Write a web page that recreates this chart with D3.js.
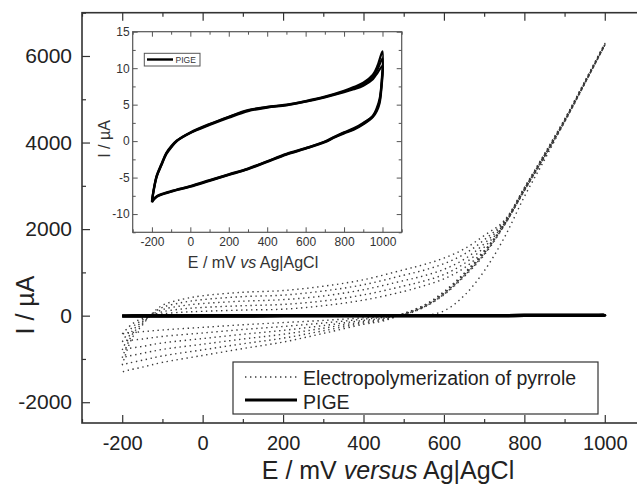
<!DOCTYPE html>
<html>
<head>
<meta charset="utf-8">
<script src="https://cdn.jsdelivr.net/npm/d3@7"></script>
<style>
  html, body { margin: 0; padding: 0; background: #fff; }
  svg { display: block; font-family: "Liberation Sans", Arial, Helvetica, sans-serif; }
</style>
</head>
<body>
<svg id="chart" width="637" height="485"></svg>
<script>
// ---------------- DATA ----------------
// Main chart: electropolymerization of pyrrole (6 cycles), I in µA vs E in mV
const potentialFwd = [-200, -175, -150, -125, -100, -50, 0, 100, 200, 300, 400, 500, 550, 600, 650, 700, 750, 800, 850, 900, 950, 1000];
const potentialRev = [1000, 950, 900, 850, 800, 750, 700, 650, 600, 550, 500, 450, 400, 300, 200, 100, 0, -100, -150, -185, -200];

const cycle1Fwd = [0, 0, 0, 0, 0, 0, 0, 0, 0, 0, 0, 0, 5, 110, 460, 1030, 1800, 2750, 3600, 4480, 5370, 6250];
const cycle2Fwd = [-420, -190, -60, -5, 40, 80, 100, 130, 150, 230, 360, 560, 690, 850, 1100, 1500, 2100, 2920, 3700, 4500, 5370, 6250];
const cycle3Fwd = [-600, -270, -100, 10, 90, 155, 190, 230, 260, 340, 480, 685, 800, 950, 1200, 1580, 2130, 2930, 3710, 4510, 5380, 6260];
const cycle4Fwd = [-790, -355, -140, 25, 140, 230, 280, 335, 370, 455, 600, 810, 920, 1070, 1300, 1660, 2160, 2940, 3720, 4520, 5390, 6270];
const cycle5Fwd = [-970, -435, -180, 40, 190, 305, 370, 440, 475, 570, 715, 935, 1050, 1200, 1420, 1750, 2180, 2950, 3730, 4530, 5400, 6280];
const cycle6Fwd = [-1140, -510, -220, 55, 240, 380, 460, 540, 580, 680, 830, 1060, 1180, 1330, 1540, 1850, 2200, 2960, 3740, 4540, 5410, 6290];

const cycle1Rev = [6250, 5350, 4470, 3660, 2880, 2080, 1400, 900, 480, 190, 20, -20, -50, -110, -160, -210, -270, -330, -370, -400, -420];
const cycle2Rev = [6250, 5360, 4480, 3670, 2890, 2090, 1420, 920, 495, 200, 30, -40, -80, -170, -250, -320, -400, -480, -540, -575, -600];
const cycle3Rev = [6260, 5370, 4490, 3680, 2900, 2100, 1440, 935, 510, 210, 35, -60, -110, -230, -340, -430, -530, -630, -710, -760, -790];
const cycle4Rev = [6270, 5380, 4500, 3690, 2910, 2110, 1455, 950, 525, 220, 40, -80, -140, -290, -430, -540, -660, -780, -870, -935, -970];
const cycle5Rev = [6280, 5390, 4510, 3700, 2920, 2120, 1470, 965, 540, 230, 45, -100, -170, -350, -520, -650, -790, -930, -1030, -1100, -1140];
const cycle6Rev = [6290, 5400, 4520, 3710, 2930, 2130, 1485, 980, 555, 240, 50, -120, -200, -410, -610, -760, -920, -1080, -1190, -1260, -1300];

// Inset / PIGE: bare electrode CV (3 cycles), I in µA
const pigeFwdE = [-200, -190, -175, -150, -125, -100, -70, 0, 100, 200, 300, 400, 500, 600, 700, 800, 850, 900, 950, 975, 1000];
const pigeRevE = [1000, 995, 985, 970, 950, 900, 850, 800, 750, 700, 600, 500, 400, 300, 200, 100, 0, -100, -175, -200];
const pigeA_Fwd = [-8.4, -6.7, -4.9, -3.3, -1.8, -0.9, 0, 1.1, 2.2, 3.2, 4.1, 4.6, 4.9, 5.4, 6.0, 6.7, 7.1, 7.6, 8.5, 9.4, 10.3];
const pigeB_Fwd = [-8.3, -6.6, -4.8, -3.2, -1.7, -0.8, 0.05, 1.15, 2.3, 3.3, 4.2, 4.65, 4.95, 5.45, 6.05, 6.8, 7.25, 7.8, 8.8, 9.9, 11.3];
const pigeC_Fwd = [-8.2, -6.5, -4.7, -3.1, -1.6, -0.7, 0.1, 1.2, 2.35, 3.35, 4.25, 4.7, 5.0, 5.5, 6.1, 6.9, 7.4, 8.0, 9.1, 10.4, 12.3];
const pigeA_Rev = [10.3, 7.4, 5.2, 4.1, 3.3, 2.3, 1.55, 1.05, 0.5, -0.15, -1.05, -1.85, -2.85, -3.85, -4.65, -5.45, -6.25, -6.95, -7.65, -8.4];
const pigeB_Rev = [11.3, 7.7, 5.5, 4.3, 3.4, 2.4, 1.65, 1.15, 0.55, -0.1, -1.0, -1.8, -2.8, -3.8, -4.6, -5.4, -6.2, -6.9, -7.6, -8.3];
const pigeC_Rev = [12.3, 8.0, 5.8, 4.5, 3.5, 2.5, 1.75, 1.2, 0.6, -0.05, -0.95, -1.75, -2.75, -3.75, -4.55, -5.35, -6.15, -6.85, -7.55, -8.2];

// Tick values
const mainXMajor = [-200, 0, 200, 400, 600, 800, 1000];
const mainXMinor = [-300, -100, 100, 300, 500, 700, 900, 1100];
const mainYMajor = [-2000, 0, 2000, 4000, 6000];
const mainYMinor = [-1000, 1000, 3000, 5000, 7000];
const insetXMajor = [-200, 0, 200, 400, 600, 800, 1000];
const insetXMinor = [-300, -100, 100, 300, 500, 700, 900, 1100];
const insetYMajor = [-10, -5, 0, 5, 10, 15];
const insetYMinor = [-12.5, -7.5, -2.5, 2.5, 7.5, 12.5];

const legendLabels = ["Electropolymerization of pyrrole", "PIGE"];

// ---------------- BUILD ----------------
const svg = d3.select("#chart");
const txtCol = "#222";
const axCol = "#333";
const plain = d => String(d);

const polyCycles = [
  [cycle1Fwd, cycle1Rev], [cycle2Fwd, cycle2Rev], [cycle3Fwd, cycle3Rev],
  [cycle4Fwd, cycle4Rev], [cycle5Fwd, cycle5Rev], [cycle6Fwd, cycle6Rev]
].map(([f, r]) =>
  potentialFwd.map((e, i) => [e, f[i]]).concat(potentialRev.slice(1).map((e, i) => [e, r[i + 1]]))
);
const pigeCycles = [
  [pigeA_Fwd, pigeA_Rev], [pigeB_Fwd, pigeB_Rev], [pigeC_Fwd, pigeC_Rev]
].map(([f, r]) =>
  pigeFwdE.map((e, i) => [e, f[i]]).concat(pigeRevE.slice(1).map((e, i) => [e, r[i + 1]]))
);

// Main scales
const mx = d3.scaleLinear().domain([-300, 1100]).range([82, 645]);
const my = d3.scaleLinear().domain([-2480, 7000]).range([423, 12.7]);

const gMain = svg.append("g");

function styleAxis(g) {
  g.select(".domain").remove();
  g.selectAll(".tick line").attr("stroke", axCol).attr("stroke-width", 1.2);
  g.selectAll(".tick text").attr("fill", txtCol);
}

// main axes
gMain.append("g").attr("transform", "translate(0,423)")
  .call(d3.axisBottom(mx).tickValues(mainXMajor).tickFormat(plain).tickSize(-8).tickSizeOuter(0).tickPadding(13))
  .call(styleAxis).selectAll("text").attr("font-size", 20);
gMain.append("g").attr("transform", "translate(0,423)")
  .call(d3.axisBottom(mx).tickValues(mainXMinor).tickSize(-4).tickSizeOuter(0).tickFormat(""))
  .call(styleAxis);
gMain.append("g").attr("transform", "translate(0,12.7)")
  .call(d3.axisTop(mx).tickValues(mainXMajor).tickSize(-8).tickSizeOuter(0).tickFormat(""))
  .call(styleAxis);
gMain.append("g").attr("transform", "translate(0,12.7)")
  .call(d3.axisTop(mx).tickValues(mainXMinor).tickSize(-4).tickSizeOuter(0).tickFormat(""))
  .call(styleAxis);
gMain.append("g").attr("transform", "translate(82,0)")
  .call(d3.axisLeft(my).tickValues(mainYMajor).tickFormat(plain).tickSize(-8).tickSizeOuter(0).tickPadding(10))
  .call(styleAxis).selectAll("text").attr("font-size", 21);
gMain.append("g").attr("transform", "translate(82,0)")
  .call(d3.axisLeft(my).tickValues(mainYMinor).tickSize(-4).tickSizeOuter(0).tickFormat(""))
  .call(styleAxis);
gMain.append("g").attr("transform", "translate(645,0)")
  .call(d3.axisRight(my).tickValues(mainYMajor).tickSize(-8).tickSizeOuter(0).tickFormat(""))
  .call(styleAxis);
gMain.append("g").attr("transform", "translate(645,0)")
  .call(d3.axisRight(my).tickValues(mainYMinor).tickSize(-4).tickSizeOuter(0).tickFormat(""))
  .call(styleAxis);

gMain.append("rect").attr("x", 82).attr("y", 12.7).attr("width", 563).attr("height", 410.3)
  .attr("fill", "none").attr("stroke", axCol).attr("stroke-width", 1.6);

// axis titles
const xt = gMain.append("text").attr("x", 388).attr("y", 479).attr("text-anchor", "middle")
  .attr("font-size", 25).attr("fill", txtCol);
xt.append("tspan").text("E / mV ");
xt.append("tspan").attr("font-style", "italic").text("versus");
xt.append("tspan").text(" Ag|AgCl");

gMain.append("text").attr("transform", "translate(34,305) rotate(-90)").attr("text-anchor", "middle")
  .attr("font-size", 25).attr("fill", txtCol).text("I / \u00B5A");

// main data
const mLine = d3.line().x(d => mx(d[0])).y(d => my(d[1])).curve(d3.curveCatmullRom.alpha(0.5));
gMain.append("g").selectAll("path").data(polyCycles).join("path")
  .attr("d", mLine).attr("fill", "none").attr("stroke", "#3a3a3a")
  .attr("stroke-width", 1.4).attr("stroke-dasharray", "1.4 3.6");

gMain.append("g").selectAll("path").data(pigeCycles).join("path")
  .attr("d", mLine).attr("fill", "none").attr("stroke", "#000").attr("stroke-width", 3);

// main legend
const lg = gMain.append("g");
lg.append("rect").attr("x", 233).attr("y", 362).attr("width", 365).attr("height", 52)
  .attr("fill", "#fff").attr("stroke", axCol).attr("stroke-width", 1.2);
lg.append("line").attr("x1", 245).attr("x2", 297).attr("y1", 377).attr("y2", 377)
  .attr("stroke", "#3a3a3a").attr("stroke-width", 1.4).attr("stroke-dasharray", "1.4 3.6");
lg.append("line").attr("x1", 245).attr("x2", 297).attr("y1", 400).attr("y2", 400)
  .attr("stroke", "#000").attr("stroke-width", 3);
lg.selectAll("text").data(legendLabels).join("text")
  .attr("x", 303).attr("y", (d, i) => 385 + i * 23.5)
  .attr("font-size", 19.5).attr("fill", txtCol).text(d => d);

// ---------------- INSET ----------------
const ix = d3.scaleLinear().domain([-300, 1100]).range([132.7, 401.7]);
const iy = d3.scaleLinear().domain([-12.5, 15]).range([232.3, 31.7]);
const gIn = svg.append("g");
gIn.append("rect").attr("x", 132.7).attr("y", 31.7).attr("width", 269).attr("height", 200.6).attr("fill", "#fff");

function styleInset(g) {
  g.select(".domain").remove();
  g.selectAll(".tick line").attr("stroke", "#555").attr("stroke-width", 1);
  g.selectAll(".tick text").attr("fill", "#333").attr("font-size", 12);
}
gIn.append("g").attr("transform", "translate(0,232.3)")
  .call(d3.axisBottom(ix).tickValues(insetXMajor).tickFormat(plain).tickSize(-5).tickSizeOuter(0).tickPadding(5)).call(styleInset);
gIn.append("g").attr("transform", "translate(0,232.3)")
  .call(d3.axisBottom(ix).tickValues(insetXMinor).tickSize(-3).tickSizeOuter(0).tickFormat("")).call(styleInset);
gIn.append("g").attr("transform", "translate(0,31.7)")
  .call(d3.axisTop(ix).tickValues(insetXMajor).tickSize(-5).tickSizeOuter(0).tickFormat("")).call(styleInset);
gIn.append("g").attr("transform", "translate(0,31.7)")
  .call(d3.axisTop(ix).tickValues(insetXMinor).tickSize(-3).tickSizeOuter(0).tickFormat("")).call(styleInset);
gIn.append("g").attr("transform", "translate(132.7,0)")
  .call(d3.axisLeft(iy).tickValues(insetYMajor).tickFormat(plain).tickSize(-5).tickSizeOuter(0).tickPadding(3)).call(styleInset);
gIn.append("g").attr("transform", "translate(132.7,0)")
  .call(d3.axisLeft(iy).tickValues(insetYMinor).tickSize(-3).tickSizeOuter(0).tickFormat("")).call(styleInset);
gIn.append("g").attr("transform", "translate(401.7,0)")
  .call(d3.axisRight(iy).tickValues(insetYMajor).tickSize(-5).tickSizeOuter(0).tickFormat("")).call(styleInset);
gIn.append("g").attr("transform", "translate(401.7,0)")
  .call(d3.axisRight(iy).tickValues(insetYMinor).tickSize(-3).tickSizeOuter(0).tickFormat("")).call(styleInset);

gIn.append("rect").attr("x", 132.7).attr("y", 31.7).attr("width", 269).attr("height", 200.6)
  .attr("fill", "none").attr("stroke", "#555").attr("stroke-width", 1.2);

const iLine = d3.line().x(d => ix(d[0])).y(d => iy(d[1])).curve(d3.curveCatmullRom.alpha(0.5));
gIn.append("g").selectAll("path").data(pigeCycles).join("path")
  .attr("d", iLine).attr("fill", "none").attr("stroke", "#000").attr("stroke-width", 2.2);

const ixt = gIn.append("text").attr("x", 253).attr("y", 268).attr("text-anchor", "middle")
  .attr("font-size", 16).attr("fill", "#333");
ixt.append("tspan").text("E / mV ");
ixt.append("tspan").attr("font-style", "italic").text("vs");
ixt.append("tspan").text(" Ag|AgCl");
gIn.append("text").attr("transform", "translate(110,139) rotate(-90)").attr("text-anchor", "middle")
  .attr("font-size", 16).attr("fill", "#333").text("I / \u00B5A");

// inset legend
gIn.append("rect").attr("x", 144.3).attr("y", 53.3).attr("width", 55.7).attr("height", 12.7)
  .attr("fill", "#fff").attr("stroke", "#555").attr("stroke-width", 1);
gIn.append("line").attr("x1", 147).attr("x2", 173).attr("y1", 59.5).attr("y2", 59.5)
  .attr("stroke", "#000").attr("stroke-width", 2.4);
gIn.append("text").attr("x", 175.5).attr("y", 62.8).attr("font-size", 8.5).attr("fill", "#333").text(legendLabels[1]);
</script>
</body>
</html>
